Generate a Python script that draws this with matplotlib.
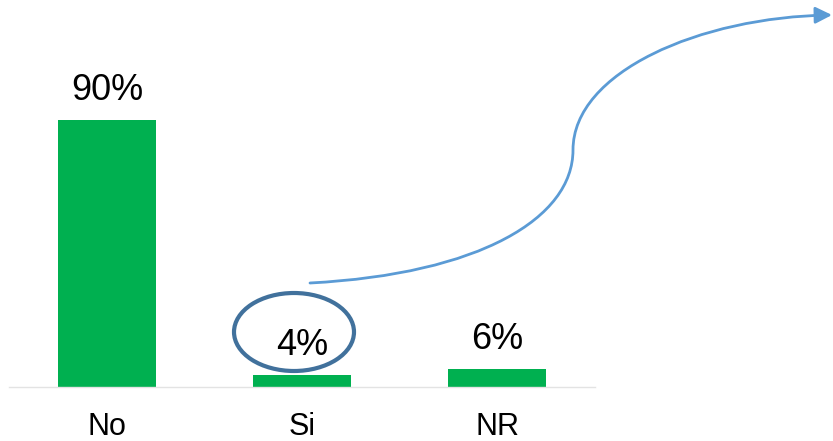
import matplotlib.pyplot as plt
import matplotlib.patches as patches
from matplotlib.path import Path

plt.rcParams['font.family'] = ['Liberation Sans', 'DejaVu Sans']

categories = ['No', 'Si', 'NR']
values = [0.90, 0.04, 0.06]
labels = ['90%', '4%', '6%']

fig = plt.figure(figsize=(8.33, 4.41), dpi=100)
ax = fig.add_axes([0.0114, 0.1224, 0.7023, 0.6728])

x = range(len(categories))
bars = ax.bar(x, values, width=0.5, color='#00B050', zorder=2)
ax.set_xlim(-0.5, 2.5)
ax.set_ylim(0, 1)

for b, lab in zip(bars, labels):
    ax.annotate(lab, (b.get_x() + b.get_width() / 2, b.get_height()),
                xytext=(0, 14.5), textcoords='offset points',
                ha='center', va='baseline', fontsize=26, color='black')

ax.set_xticks(list(x))
ax.set_xticklabels(categories, fontsize=22)
ax.tick_params(axis='x', length=0, pad=18)
ax.set_yticks([])
for s in ['top', 'right', 'left']:
    ax.spines[s].set_visible(False)
ax.spines['bottom'].set_color('#E3E3E3')
ax.spines['bottom'].set_linewidth(1)

# overlay in pixel coords for the callout
ov = fig.add_axes([0, 0, 1, 1], facecolor='none')
ov.set_xlim(0, 833)
ov.set_ylim(441, 0)
ov.axis('off')

ring = patches.Ellipse((294, 332), 120, 78, fill=False,
                       edgecolor='#41719C', linewidth=3)
ov.add_patch(ring)

verts = [(310, 283), (480, 274), (573, 218), (573, 150),
         (573, 72), (700, 17), (832, 15)]
codes = [Path.MOVETO, Path.CURVE4, Path.CURVE4, Path.CURVE4,
         Path.CURVE4, Path.CURVE4, Path.CURVE4]
arrow = patches.FancyArrowPatch(path=Path(verts, codes),
                                arrowstyle='-|>,head_length=0.5,head_width=0.25',
                                mutation_scale=20, color='#5B9BD5',
                                linewidth=2, shrinkA=0, shrinkB=0)
ov.add_patch(arrow)

fig.savefig('out.png', dpi=100, facecolor='white')
